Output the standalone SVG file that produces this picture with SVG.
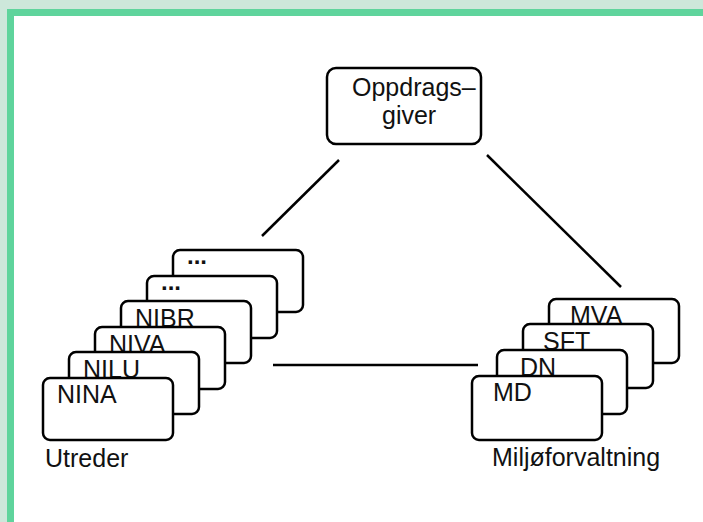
<svg xmlns="http://www.w3.org/2000/svg" width="703" height="522" viewBox="0 0 703 522">
<style>
.box{fill:#fff;stroke:#000;stroke-width:2.5}
.t{font-family:"Liberation Sans",Arial,sans-serif;font-size:25px;fill:#111}
.dots{font-family:"Liberation Sans",Arial,sans-serif;font-size:24px;font-weight:bold;fill:#111}
.ln{stroke:#000;stroke-width:2.5;fill:none}
</style>
<rect x="0" y="0" width="703" height="522" fill="#fff"/>
<rect x="0" y="0" width="8" height="522" fill="#cde7da"/>
<rect x="0" y="0" width="703" height="10" fill="#cde7da"/>
<rect x="7" y="9" width="7" height="513" fill="#5fd49c"/>
<rect x="7" y="9" width="696" height="7" fill="#5fd49c"/>
<g id="connectors">
<line class="ln" x1="339" y1="160" x2="262" y2="236"/>
<line class="ln" x1="487" y1="155" x2="621" y2="287"/>
<line class="ln" x1="273" y1="365" x2="478" y2="365"/>
</g>
<g id="oppdragsgiver">
<rect class="box" x="327" y="68" width="154" height="76" rx="9"/>
<text class="t" x="352" y="96">Oppdrags–</text>
<text class="t" x="382" y="124">giver</text>
</g>
<g id="utreder">
<g id="u6"><rect class="box" x="173" y="250" width="130" height="62" rx="7"/><text class="dots" x="187" y="264">...</text></g>
<g id="u5"><rect class="box" x="147" y="276" width="130" height="62" rx="7"/><text class="dots" x="161" y="290">...</text></g>
<g id="nibr"><rect class="box" x="121" y="301" width="130" height="62" rx="7"/><text class="t" x="135" y="327">NIBR</text></g>
<g id="niva"><rect class="box" x="95" y="327" width="130" height="62" rx="7"/><text class="t" x="109" y="353">NIVA</text></g>
<g id="nilu"><rect class="box" x="69" y="352" width="130" height="62" rx="7"/><text class="t" x="83" y="378">NILU</text></g>
<g id="nina"><rect class="box" x="43" y="378" width="130" height="62" rx="7"/><text class="t" x="57" y="403">NINA</text></g>
<text class="t" x="45" y="467">Utreder</text>
</g>
<g id="miljoforvaltning">
<g id="mva"><rect class="box" x="549" y="299" width="130" height="64" rx="7"/><text class="t" x="570" y="324">MVA</text></g>
<g id="sft"><rect class="box" x="523" y="324" width="130" height="64" rx="7"/><text class="t" x="543" y="350">SFT</text></g>
<g id="dn"><rect class="box" x="497" y="350" width="130" height="64" rx="7"/><text class="t" x="520" y="376">DN</text></g>
<g id="md"><rect class="box" x="472" y="376" width="130" height="64" rx="7"/><text class="t" x="493" y="401">MD</text></g>
<text class="t" x="492" y="466">Miljøforvaltning</text>
</g>
</svg>
